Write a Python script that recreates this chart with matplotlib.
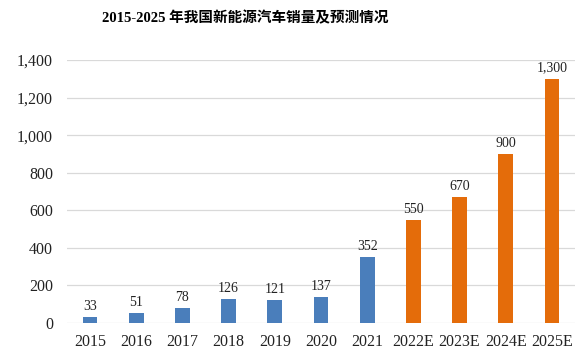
import numpy as np
import matplotlib.pyplot as plt
from matplotlib.ticker import FuncFormatter

years = ['2015', '2016', '2017', '2018', '2019', '2020', '2021',
         '2022E', '2023E', '2024E', '2025E']
sales = [33, 51, 78, 126, 121, 137, 352, 550, 670, 900, 1300]
is_forecast = [False] * 7 + [True] * 4

blue = '#4a7ebb'
orange = '#e46c0a'
serif = ['Liberation Serif', 'Noto Sans CJK SC']

fig = plt.figure(figsize=(5.86, 3.64), dpi=100)
ax = fig.add_axes([67 / 586, 1 - 323 / 364, 508 / 586, 263 / 364])

x = np.arange(len(years))
colors = [orange if f else blue for f in is_forecast]
bars = ax.bar(x, sales, width=0.32, color=colors, zorder=3)

for b, v in zip(bars, sales):
    ax.text(b.get_x() + b.get_width() / 2, v + 22, format(v, ','),
            ha='center', va='bottom', fontsize=10, family=serif, color='#222222')

ax.set_ylim(0, 1400)
ax.set_xlim(-0.5, len(years) - 0.5)
ax.set_yticks(np.arange(0, 1401, 200))
ax.yaxis.set_major_formatter(FuncFormatter(lambda v, p: format(int(v), ',')))
ax.set_xticks(x)
ax.set_xticklabels(years)
ax.grid(axis='y', color='#d9d9d9', linewidth=0.9, zorder=0)
for s in ax.spines.values():
    s.set_visible(False)
ax.tick_params(length=0, labelsize=11.5, colors='#222222', pad=8)
ax.tick_params(axis='y', pad=10)
for lab in ax.get_xticklabels() + ax.get_yticklabels():
    lab.set_family(serif)

fig.text(245 / 586, 1 - 18 / 364, '2015-2025 年我国新能源汽车销量及预测情况',
         ha='center', va='center', fontsize=10.5, fontweight='bold', family=serif)

plt.savefig('out.png', dpi=100)
